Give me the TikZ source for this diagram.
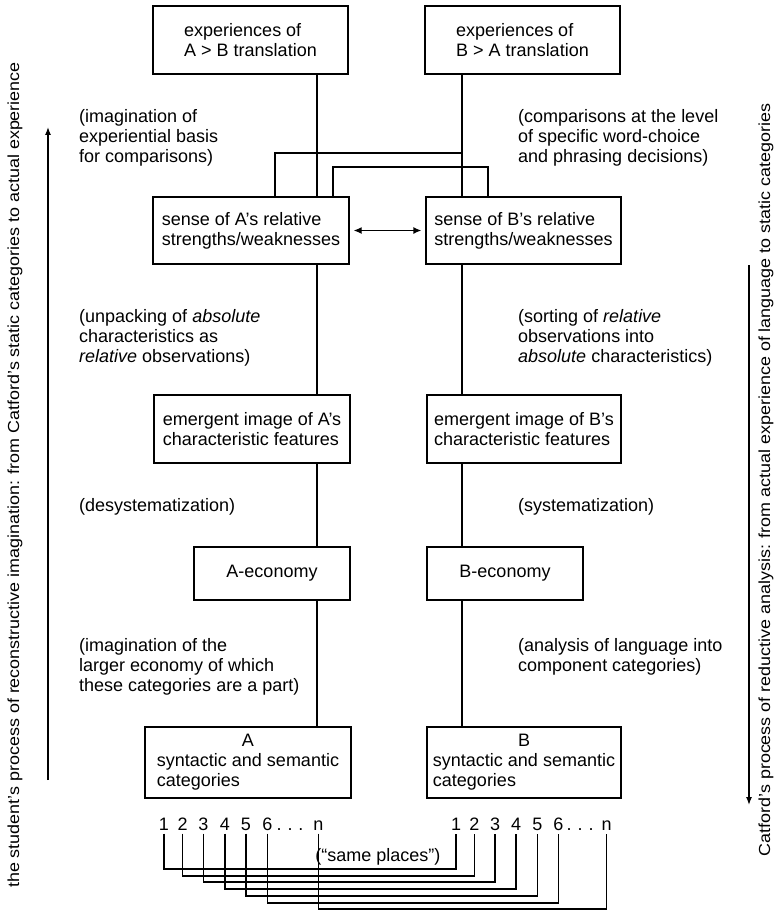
\documentclass[tikz,border=0pt]{standalone}
\usepackage{fontspec}
\setmainfont{Liberation Sans}
\usetikzlibrary{arrows.meta}

\begin{document}
\begin{tikzpicture}[x=1pt, y=-1pt,
    every node/.style={font=\fontsize{18}{20}\selectfont},
    box/.style={draw, line width=1.3pt, align=left, inner sep=0pt},
    note/.style={anchor=north west, align=left, inner sep=0pt},
    link/.style={line width=1.3pt},
    side/.style={rotate=90, inner sep=0pt, font=\fontsize{16}{18}\selectfont\addfontfeature{FakeStretch=1.12}}]

    \useasboundingbox (0,0) rectangle (780,912);

    % Left column (A)
    \node[box, minimum width=195pt, minimum height=68pt] (TA) at (250.5,40) {experiences of\\A > B translation};
    \node[box, minimum width=196pt, minimum height=67pt] (SA) at (251,230.5) {sense of A's relative\\strengths/weaknesses};
    \node[box, minimum width=196pt, minimum height=68pt] (EA) at (252,429) {emergent image of A's\\characteristic features};
    \node[box, minimum width=156pt, minimum height=53pt] (CA) at (272,573.5) {A-economy};
    \node[box, minimum width=206pt, minimum height=71pt] (GA) at (248,762.5)
        {\begin{tabular}{@{}l@{}}\multicolumn{1}{@{}c@{}}{A}\\syntactic and semantic\\categories\end{tabular}};

    % Right column (B)
    \node[box, minimum width=195pt, minimum height=68pt] (TB) at (522.5,40) {experiences of\\B > A translation};
    \node[box, minimum width=195pt, minimum height=67pt] (SB) at (523.5,230.5) {sense of B's relative\\strengths/weaknesses};
    \node[box, minimum width=194pt, minimum height=68pt] (EB) at (524,429) {emergent image of B's\\characteristic features};
    \node[box, minimum width=156pt, minimum height=53pt] (CB) at (505,573.5) {B-economy};
    \node[box, minimum width=194pt, minimum height=71pt] (GB) at (524,762.5)
        {\begin{tabular}{@{}l@{}}\multicolumn{1}{@{}c@{}}{B}\\syntactic and semantic\\categories\end{tabular}};

    % Notes between the boxes
    \node[note] (na1) at (79,109) {(imagination of\\experiential basis\\for comparisons)};
    \node[note] (na2) at (79,309) {(unpacking of \emph{absolute}\\characteristics as\\\emph{relative} observations)};
    \node[note] (na3) at (79,498) {(desystematization)};
    \node[note] (na4) at (79,638) {(imagination of the\\larger economy of which\\these categories are a part)};
    \node[note] (nb1) at (518,109) {(comparisons at the level\\of specific word-choice\\and phrasing decisions)};
    \node[note] (nb2) at (518,309) {(sorting of \emph{relative}\\observations into\\\emph{absolute} characteristics)};
    \node[note] (nb3) at (518,498) {(systematization)};
    \node[note] (nb4) at (518,638) {(analysis of language into\\component categories)};

    % Vertical links
    \coordinate (ca) at (317,0);
    \coordinate (cb) at (462,0);
    \foreach \u/\v in {T/S, S/E, E/C, C/G} {
        \draw[link] (\u A.south -| ca) -- (\v A.north -| ca);
        \draw[link] (\u B.south -| cb) -- (\v B.north -| cb);
    }

    % Crossing links
    \coordinate (jb) at (462,153);
    \draw[link] (jb) -| (SA.north -| 275,0);
    \draw[link] (SA.north -| 333,0) |- (488,167) -- (SB.north -| 488,0);
    \draw[link, {Latex[length=8pt,width=7pt]}-{Latex[length=8pt,width=7pt]}, shorten <=4pt, shorten >=4pt] (SA.east) -- (SB.west);

    % Places: 1 2 3 ... n on both sides
    \foreach \t/\xa/\xb/\yy [count=\i] in {1/164/456/869, 2/182.7/474.3/876, 3/203.3/495/882, 4/225/516/889,
                                          5/246/537.3/896, 6/267.3/558.3/903, n/318.3/606.7/909} {
        \node[anchor=base] (a\i) at (\xa,830) {\t};
        \node[anchor=base] (b\i) at (\xb,830) {\t};
        \draw[link] (a\i.south) |- (b\i.south |- 0,\yy) -- (b\i.south);
    }
    \node[anchor=base] (adots) at (290,830) {.\,\,.\,\,.};
    \node[anchor=base] (bdots) at (580,830) {.\,\,.\,\,.};
    \node (same) at (378,857) {(``same places'')};

    % Side labels and arrows
    \node[side] (lside) at (15,475) {the student's process of reconstructive imagination: from Catford's static categories to actual experience};
    \node[side] (rside) at (766,480) {Catford's process of reductive analysis: from actual experience of language to static categories};
    \coordinate (la0) at (48,780);
    \coordinate (la1) at (48,127);
    \coordinate (ra0) at (749,265);
    \coordinate (ra1) at (749,805);
    \draw[link, -{Latex[length=8pt,width=6pt]}] (la0) -- (la1);
    \draw[link, -{Latex[length=8pt,width=6pt]}] (ra0) -- (ra1);

\end{tikzpicture}
\end{document}
